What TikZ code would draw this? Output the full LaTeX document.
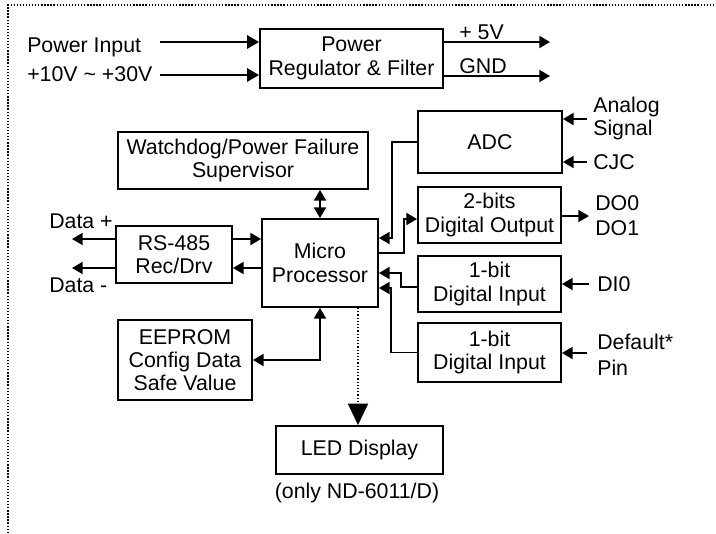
\documentclass[tikz,border=0pt]{standalone}
\usepackage{fontspec}
\setmainfont{Liberation Sans}
\usetikzlibrary{arrows.meta,calc}
\begin{document}
\begin{tikzpicture}[x=0.75pt,y=-0.75pt,
  every node/.style={font=\fontsize{16}{17.5}\selectfont},
  blk/.style={draw,line width=1.4pt,rectangle,inner sep=0pt,align=center},
  lbl/.style={inner sep=0pt,anchor=west,align=left},
  arr/.style={line width=1.4pt,-{Triangle[length=8pt,width=9pt]}},
  darr/.style={line width=1.4pt,{Triangle[length=8pt,width=9pt]}-{Triangle[length=8pt,width=9pt]}},
  bigarr/.style={line width=1.5pt,-{Triangle[length=9pt,width=10pt]}},
  dotarr/.style={line width=1.1pt,dash pattern=on 1pt off 1.4pt,-{Triangle[length=16pt,width=15pt]}},
  frame/.style={line width=1.2pt,dash pattern=on 1pt off 1.3pt}]
\useasboundingbox (0,0) rectangle (716,533);
% outer dotted frame (top and left edges visible)
\coordinate (fa) at (8,533);
\coordinate (fb) at (8,5);
\coordinate (fc) at (716,5);
\draw[frame] (fa) -- (fb) -- (fc);

% blocks
\node[blk,minimum width=137.25pt,minimum height=44.25pt] (pwr) at (351.5,58.5) {Power\\Regulator \& Filter};
\node[blk,minimum width=187.5pt,minimum height=42.75pt] (wd) at (243,160.5) {Watchdog/Power Failure\\Supervisor};
\node[blk,minimum width=108pt,minimum height=46.5pt] (adc) at (490,142) {ADC};
\node[blk,minimum width=107.25pt,minimum height=42pt] (dout) at (489.5,215) {2-bits\\Digital Output};
\node[blk,minimum width=107.25pt,minimum height=42pt] (di1) at (489.5,284) {1-bit\\Digital Input};
\node[blk,minimum width=107.25pt,minimum height=44.25pt] (di2) at (489.5,352.5) {1-bit\\Digital Input};
\node[blk,minimum width=87pt,minimum height=66pt] (mp) at (320,263) {Micro\\Processor};
\node[blk,minimum width=87pt,minimum height=42.75pt] (rs) at (174,254.5) {RS-485\\Rec/Drv};
\node[blk,minimum width=100.5pt,minimum height=60pt] (ee) at (185,360) {EEPROM\\Config Data\\Safe Value};
\node[blk,minimum width=125.25pt,minimum height=36pt] (led) at (359.5,450) {LED Display};
\node[inner sep=0pt] (ledn) at (357,493) {(only ND-6011/D)};

% labels
\node[lbl] (pin) at (27,47) {Power Input};
\node[lbl] (vin) at (27,74) {+10V \textasciitilde{} +30V};
\node[lbl] (v5) at (459,32) {+ 5V};
\node[lbl] (gnd) at (459,66) {GND};
\node[lbl] (ana) at (593,107) {Analog};
\node[lbl] (sig) at (593,130) {Signal};
\node[lbl] (cjc) at (593,162) {CJC};
\node[lbl] (do0) at (595,203) {DO0};
\node[lbl] (do1) at (595,228) {DO1};
\node[lbl] (di0) at (597,284) {DI0};
\node[lbl] (dft) at (597,342) {Default*};
\node[lbl] (pinl) at (597,368) {Pin};
\node[lbl] (dplus) at (49,221) {Data +};
\node[lbl] (dminus) at (49,285) {Data -};

% free ends
\coordinate (i1) at (160,42);
\coordinate (i2) at (160,75);
\coordinate (o1) at (550,42);
\coordinate (o2) at (550,76);
\coordinate (an) at (587,119);
\coordinate (cj) at (587,162);
\coordinate (dq) at (589,216);
\coordinate (d0) at (589,284);
\coordinate (df) at (587,353);
\coordinate (dp) at (72,239);
\coordinate (dm) at (72,268);
\coordinate (lt) at ($(mp.south)+(38,0)$);

% power
\draw[bigarr] (i1) -- (i1 -| pwr.west);
\draw[bigarr] (i2) -- (i2 -| pwr.west);
\draw[arr] (o1 -| pwr.east) -- (o1);
\draw[arr] (o2 -| pwr.east) -- (o2);

% right side inputs/outputs
\draw[arr] (an) -- (an -| adc.east);
\draw[arr] (cj) -- (cj -| adc.east);
\draw[arr] (dq -| dout.east) -- (dq);
\draw[arr] (d0) -- (d0 -| di1.east);
\draw[arr] (df) -- (df -| di2.east);

% RS-485
\draw[arr] (dp -| rs.west) -- (dp);
\draw[arr] (dm -| rs.west) -- (dm);
\draw[arr] (dp -| rs.east) -- (dp -| mp.west);
\draw[arr] (dm -| mp.west) -- (dm -| rs.east);

% watchdog
\draw[darr] (mp.north) -- (mp.north |- wd.south);

% EEPROM
\draw[darr] (mp.south) -- (mp.south |- ee.east) -- (ee.east);

% LED
\draw[dotarr] (lt) -- (lt |- led.north);

% ADC / DIO to processor
\draw[arr] (adc.west) -- ++(-25,0) |- ($(mp.east)+(0,-25)$);
\draw[arr] ($(mp.east)+(0,-10)$) -- ++(25,0) |- ($(dout.west)+(0,4)$);
\draw[arr] ($(di1.west)+(0,3)$) -- ++(-16,0) |- ($(mp.east)+(0,10)$);
\draw[arr] (di2.west) -- ++(-26,0) |- ($(mp.east)+(0,25)$);
\end{tikzpicture}
\end{document}
